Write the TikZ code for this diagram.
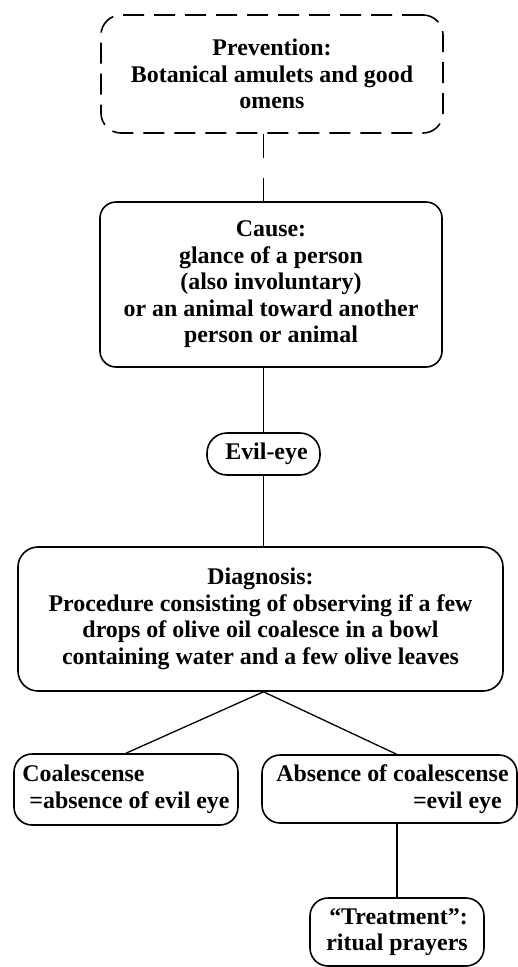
\documentclass[tikz,border=0pt]{standalone}
\usepackage{fontspec}
\setmainfont{Liberation Serif}
\begin{document}
\begin{tikzpicture}[x=1pt,y=-1pt,
  box/.style={draw, line width=1.6pt, rounded corners=16pt, inner sep=0pt,
    font=\bfseries\fontsize{23.9}{26.5}\selectfont, align=center},
  link/.style={line width=1.3pt}]
\useasboundingbox (0,0) rectangle (518,967);
\node[box, dash pattern=on 21pt off 10pt, rounded corners=20pt,
  minimum width=342pt, minimum height=118pt] (prev) at (272,74)
  {Prevention:\\Botanical amulets and good\\omens};
\node[box, minimum width=342pt, minimum height=165pt] (cause) at (271,284.5)
  {Cause:\\glance of a person\\(also involuntary)\\or an animal toward another\\person or animal};
\node[box, rounded corners=20pt, minimum width=113pt, minimum height=42pt] (ee) at (263.5,454)
  {\hspace*{6pt}Evil-eye};
\node[box, rounded corners=20pt, minimum width=485pt, minimum height=144pt] (diag) at (260.5,619)
  {Diagnosis:\\Procedure consisting of observing if a few\\drops of olive oil coalesce in a bowl\\containing water and a few olive leaves};
\node[box, rounded corners=18pt, align=left, minimum width=224pt, minimum height=71pt] (coal) at (126,789.5)
  {Coalescense\\\hspace*{7pt}=absence of evil eye};
\node[box, rounded corners=18pt, align=right, minimum width=255pt, minimum height=68pt] (abs) at (389.5,789)
  {\hspace*{6pt}Absence of coalescense\\=evil eye\hspace*{7pt}};
\node[box, rounded corners=18pt, minimum width=174pt, minimum height=68pt] (treat) at (397,932)
  {\hspace*{3pt}``Treatment'':\\ritual prayers};
\draw[link, dash pattern=on 24pt off 20pt] (prev.south -| ee.north) -- (cause.north -| ee.north);
\draw[link] (cause.south -| ee.north) -- (ee.north);
\draw[link] (ee.south) -- (diag.north -| ee.south);
\coordinate (fork) at (diag.south -| ee.south);
\draw[link] (coal.north) -- (fork) -- ([xshift=7pt]abs.north);
\draw[link] (abs.south -| treat.north) -- (treat.north);
\end{tikzpicture}
\end{document}
